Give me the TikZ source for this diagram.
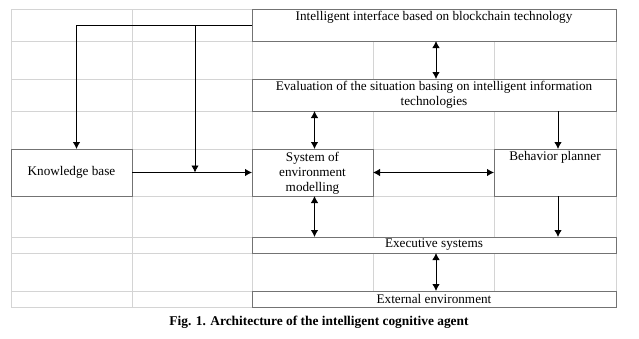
\documentclass[tikz,border=0pt]{standalone}
\usepackage{fontspec}
\setmainfont{Liberation Serif}
\usetikzlibrary{arrows.meta}
\colorlet{gridc}{black!17}
\colorlet{boxc}{black!55}
\tikzset{
  gline/.style={draw=gridc,line width=.8pt},
  cell/.style={draw=boxc,fill=white,line width=.8pt,inner sep=0pt,outer sep=0pt},
  ctext/.style={font=\fontsize{13.2}{15}\selectfont,align=center,inner sep=1pt},
  arr/.style={draw=black,line width=.9pt,-{Latex[length=7pt,width=7.5pt]}},
  darr/.style={draw=black,line width=.9pt,{Latex[length=7pt,width=7.5pt]}-{Latex[length=7pt,width=7.5pt]}}
}
\begin{document}
\begin{tikzpicture}[x=1pt,y=-1pt]
  \useasboundingbox (0,0) rectangle (639,338);
  % background grid
  \draw[gline] (11,9) rectangle (616,307);
  \foreach \gx in {132,252,373,494} {\draw[gline] (\gx,9) -- (\gx,307);}
  \foreach \gy in {41,79,111,149,196,237,253,291} {\draw[gline] (11,\gy) -- (616,\gy);}
  % blocks
  \node[cell,minimum width=364,minimum height=32] (iface) at (434,25) {};
  \node[ctext,anchor=north] at ([yshift=-1.5]iface.north) {Intelligent interface based on blockchain technology};
  \node[cell,minimum width=364,minimum height=32] (evalu) at (434,95) {};
  \node[ctext,anchor=north] at ([yshift=-1]evalu.north) {Evaluation of the situation basing on intelligent information\\technologies};
  \node[cell,minimum width=121,minimum height=47] (know) at (71.5,172.5) {};
  \node[ctext] at (know) {Knowledge base};
  \node[cell,minimum width=121,minimum height=47] (sysenv) at (312.5,172.5) {};
  \node[ctext] at ([yshift=-0.5]sysenv) {System of\\environment\\modelling};
  \node[cell,minimum width=122,minimum height=47] (planner) at (555,172.5) {};
  \node[ctext,anchor=north] at ([yshift=-1.5]planner.north) {Behavior planner};
  \node[cell,minimum width=364,minimum height=16] (exec) at (434,245) {};
  \node[ctext] at (exec) {Executive systems};
  \node[cell,minimum width=364,minimum height=16] (extenv) at (434,299) {};
  \node[ctext] at (extenv) {External environment};
  % connectors
  \coordinate (tap) at (195,25);
  \draw[arr] (iface.west) -| ([xshift=5]know.north);
  \draw[arr] (tap) -- (tap |- know.east);
  \draw[arr] (know.east) -- (sysenv.west);
  \draw[darr] ([xshift=2]iface.south) -- ([xshift=2]evalu.north);
  \draw[darr] ([xshift=2]sysenv.north |- evalu.south) -- ([xshift=2]sysenv.north);
  \draw[arr] ([xshift=3]planner.north |- evalu.south) -- ([xshift=3]planner.north);
  \draw[darr] (sysenv.east) -- (planner.west);
  \draw[darr] ([xshift=2]sysenv.south) -- ([xshift=2]sysenv.south |- exec.north);
  \draw[arr] ([xshift=3]planner.south) -- ([xshift=3]planner.south |- exec.north);
  \draw[darr] ([xshift=2]exec.south) -- ([xshift=2]extenv.north);
  % caption
  \node[font=\fontsize{13.4}{15}\selectfont\bfseries] (caption) at (319,322) {Fig. 1. Architecture of the intelligent cognitive agent};
\end{tikzpicture}
\end{document}
